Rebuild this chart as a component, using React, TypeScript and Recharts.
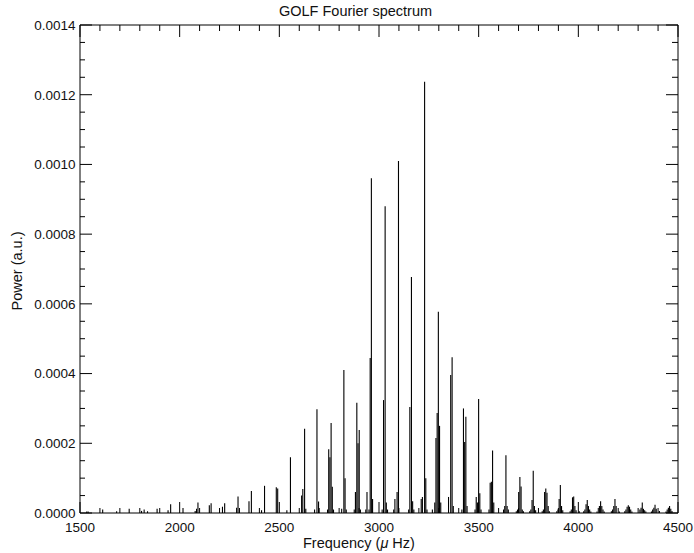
import React from 'react';
import { ComposedChart, Bar, Line, XAxis, YAxis } from 'recharts';

const FONT = '"Liberation Sans", Arial, Helvetica, sans-serif';

// Axis tick labels
const xMajorTicks = [1500, 2000, 2500, 3000, 3500, 4000, 4500];
const yMajorTicks = [0, 0.0002, 0.0004, 0.0006, 0.0008, 0.001, 0.0012, 0.0014];
const xMinorTicks = Array.from({ length: 31 }, (_, i) => 1500 + i * 100);
const yMinorTicks = Array.from({ length: 29 }, (_, i) => +(i * 0.00005).toFixed(5));

// Spectrum samples: [frequency (µHz), power (a.u.)]
const weakModes: [number, number][] = [
  [1534, 0.000004], [1541, 0.000004], [1614, 0.00001],
  [1684, 0.000005], [1747, 0.000012],
  [1809, 0.000006], [1822, 0.00001], [1839, 0.000005], [1887, 0.000012],
  [1942, 0.000008], [1955, 0.000025],
  [2017, 0.000014], [2078, 0.000006], [2085, 0.000012], [2092, 0.00003],
  [2149, 0.000022], [2158, 0.000028],
  [2215, 0.000018], [2226, 0.000028], [2286, 0.000015], [2293, 0.000047],
  [2348, 0.000034], [2360, 0.000063], [2411, 0.000008],
  [2426, 0.000078],
];

const mainModes: [number, number][] = [
  [2485, 0.000074], [2492, 0.00007],
  [2538, 0.000008], [2556, 0.00016],
  [2612, 0.00005], [2618, 0.000069], [2627, 0.000242], [2633, 0.000012],
  [2677, 0.00001], [2689, 0.000298], [2697, 0.000033],
  [2742, 0.00001], [2748, 0.000183], [2754, 0.00016], [2760, 0.000258], [2766, 0.000075], [2772, 0.00001],
  [2813, 0.000012], [2824, 0.00041], [2830, 0.0001], [2836, 0.00001],
  [2876, 0.00001], [2882, 0.00006], [2889, 0.000316], [2895, 0.0002], [2901, 0.000238], [2907, 0.00001],
  [2934, 0.00001], [2940, 0.00006], [2950, 0.00001], [2956, 0.000445], [2962, 0.00096], [2968, 0.00004],
  [3016, 0.00001], [3023, 0.000324], [3031, 0.00088], [3037, 0.00003], [3043, 0.00001],
  [3074, 0.00001], [3080, 0.00004], [3091, 0.00006], [3098, 0.00101],
  [3149, 0.00001], [3155, 0.000304], [3163, 0.000677], [3169, 0.000034], [3175, 0.00001],
  [3212, 0.00004], [3218, 0.000046], [3229, 0.001237], [3235, 0.0001], [3241, 0.00001],
  [3268, 0.00001], [3280, 0.00003], [3286, 0.000215], [3292, 0.000287], [3298, 0.000577], [3304, 0.00025], [3310, 0.00003],
  [3349, 0.000046], [3360, 0.000396], [3367, 0.000447], [3373, 0.00002],
  [3416, 0.00001], [3424, 0.0003], [3430, 0.000204], [3436, 0.000276], [3442, 0.00002],
  [3482, 0.00001], [3488, 0.000046], [3494, 0.00003], [3500, 0.000327], [3506, 0.000057], [3512, 0.00001],
  [3552, 0.00001], [3558, 0.000087], [3564, 0.00009], [3570, 0.000179], [3576, 0.00003],
  [3625, 0.00001], [3631, 0.00002], [3637, 0.000166], [3643, 0.00002], [3649, 0.00001],
];

const broadModes: [number, number][] = [
  [3689, 0.000005], [3695, 0.00001], [3701, 0.00006], [3707, 0.000103], [3713, 0.000076], [3719, 0.00001], [3725, 0.000005],
  [3756, 0.000005], [3762, 0.00001], [3768, 0.000037], [3774, 0.000121], [3780, 0.00002], [3786, 0.000008],
  [3819, 0.000005], [3825, 0.00001], [3831, 0.00006], [3837, 0.00007], [3843, 0.000058], [3849, 0.00002], [3855, 0.000005],
  [3892, 0.000005], [3898, 0.00001], [3904, 0.00004], [3910, 0.00008], [3916, 0.00002], [3922, 0.000008],
  [3959, 0.000005], [3965, 0.00001], [3971, 0.000045], [3977, 0.000047], [3983, 0.00002], [3989, 0.000008], [4005, 0.000005],
  [4027, 0.000005], [4033, 0.00001], [4039, 0.000025], [4045, 0.000037], [4051, 0.00002], [4057, 0.00001], [4063, 0.000004],
  [4094, 0.000004], [4106, 0.00002], [4112, 0.000034], [4118, 0.00002], [4124, 0.00001], [4130, 0.000004],
  [4166, 0.000005], [4172, 0.00001], [4178, 0.00002], [4184, 0.00004], [4190, 0.00002], [4206, 0.000004],
  [4233, 0.000005], [4239, 0.00001], [4245, 0.000018], [4251, 0.000022], [4257, 0.000018], [4263, 0.00001], [4269, 0.000004],
  [4309, 0.00001], [4315, 0.000015], [4321, 0.00003], [4327, 0.000012], [4333, 0.000008], [4339, 0.000004],
  [4367, 0.000004], [4373, 0.00001], [4379, 0.000015], [4385, 0.000024], [4391, 0.000012], [4407, 0.000006],
  [4440, 0.000004], [4446, 0.00001], [4452, 0.000015], [4458, 0.00002], [4464, 0.000012], [4470, 0.000006],
];

const data = [...weakModes, ...mainModes, ...broadModes]
  .map(([f, p]) => ({ f, p }))
  .sort((a, b) => a.f - b.f);

const isMajorX = (v: number) => xMajorTicks.includes(v);
const isMajorY = (v: number) => yMajorTicks.some((t) => Math.abs(t - v) < 1e-9);

const TEXT = '#111';

const BottomTick = (props: any) => {
  const { x, y, payload } = props;
  const maj = isMajorX(payload.value);
  return (
    <g>
      <line x1={x} x2={x} y1={y} y2={y - (maj ? 11 : 5)} stroke="#000" strokeWidth={1} />
      {maj && (
        <text x={x} y={y + 18.5} textAnchor="middle" fontSize={13.5} fontFamily={FONT} fill={TEXT}>
          {payload.value}
        </text>
      )}
    </g>
  );
};

const TopTick = (props: any) => {
  const { x, y, payload } = props;
  const maj = isMajorX(payload.value);
  return <line x1={x} x2={x} y1={y} y2={y + (maj ? 12 : 6)} stroke="#000" strokeWidth={1} />;
};

const LeftTick = (props: any) => {
  const { x, y, payload } = props;
  const maj = isMajorY(payload.value);
  return (
    <g>
      <line x1={x} x2={x + (maj ? 12 : 5)} y1={y} y2={y} stroke="#000" strokeWidth={1} />
      {maj && (
        <text x={x - 4.5} y={y + 4.8} textAnchor="end" fontSize={13.5} fontFamily={FONT} fill={TEXT}>
          {Number(payload.value).toFixed(4)}
        </text>
      )}
    </g>
  );
};

const RightTick = (props: any) => {
  const { x, y, payload } = props;
  const maj = isMajorY(payload.value);
  return <line x1={x} x2={x - (maj ? 12 : 6)} y1={y} y2={y} stroke="#000" strokeWidth={1} />;
};

const XLabel = (props: any) => {
  const vb = props.viewBox || { x: 80, y: 513, width: 598, height: 40 };
  return (
    <text x={vb.x + 223} y={vb.y + 35} textAnchor="start" fontSize={14.5} fontFamily={FONT} fill={TEXT}>
      Frequency (<tspan fontStyle="italic">μ</tspan> Hz)
    </text>
  );
};

const TitleLabel = (props: any) => {
  const vb = props.viewBox || { x: 80, y: 25, width: 598, height: 0 };
  return (
    <text x={vb.x + 199} y={vb.y - 8} textAnchor="start" fontSize={14.5} fontFamily={FONT} fill={TEXT}>
      GOLF Fourier spectrum
    </text>
  );
};

const YLabel = (props: any) => {
  const vb = props.viewBox || { x: 0, y: 25, width: 80, height: 488 };
  const cx = 22;
  const cy = vb.y + vb.height / 2 + 2;
  return (
    <text
      x={cx}
      y={cy}
      textAnchor="middle"
      fontSize={14.5}
      fontFamily={FONT}
      fill={TEXT}
      transform={`rotate(-90, ${cx}, ${cy})`}
    >
      Power (a.u.)
    </text>
  );
};

export default function App() {
  return (
    <div style={{ position: 'absolute', left: 0, top: 0, width: 694, height: 553, background: '#fff' }}>
      <ComposedChart
        width={694}
        height={553}
        data={data}
        margin={{ top: 24, right: 15, bottom: 0, left: 0 }}
        barCategoryGap={0}
        barGap={0}
      >
        <XAxis
          dataKey="f"
          type="number"
          domain={[1500, 4500]}
          allowDataOverflow
          ticks={xMinorTicks}
          interval={0}
          tickSize={0}
          tickMargin={0}
          height={40}
          axisLine={{ stroke: '#000', strokeWidth: 1 }}
          tickLine={false}
          tick={BottomTick}
          label={{ content: XLabel }}
        />
        <XAxis
          xAxisId="top"
          orientation="top"
          dataKey="f"
          type="number"
          domain={[1500, 4500]}
          allowDataOverflow
          ticks={xMinorTicks}
          interval={0}
          tickSize={0}
          tickMargin={0}
          height={1}
          axisLine={{ stroke: '#000', strokeWidth: 1 }}
          tickLine={false}
          tick={TopTick}
          label={{ content: TitleLabel }}
        />
        <YAxis
          type="number"
          domain={[0, 0.0014]}
          allowDataOverflow
          ticks={yMinorTicks}
          interval={0}
          tickSize={0}
          tickMargin={0}
          width={80}
          axisLine={{ stroke: '#000', strokeWidth: 1 }}
          tickLine={false}
          tick={LeftTick}
          label={{ content: YLabel }}
        />
        <YAxis
          yAxisId="right"
          orientation="right"
          type="number"
          domain={[0, 0.0014]}
          allowDataOverflow
          ticks={yMinorTicks}
          interval={0}
          tickSize={0}
          tickMargin={0}
          width={1}
          axisLine={{ stroke: '#000', strokeWidth: 1 }}
          tickLine={false}
          tick={RightTick}
        />
        <Bar dataKey="p" fill="#000" barSize={1.1} isAnimationActive={false} />
        <Line
          xAxisId="top"
          yAxisId="right"
          dataKey="p"
          stroke="none"
          dot={false}
          activeDot={false}
          legendType="none"
          isAnimationActive={false}
        />
      </ComposedChart>
    </div>
  );
}
